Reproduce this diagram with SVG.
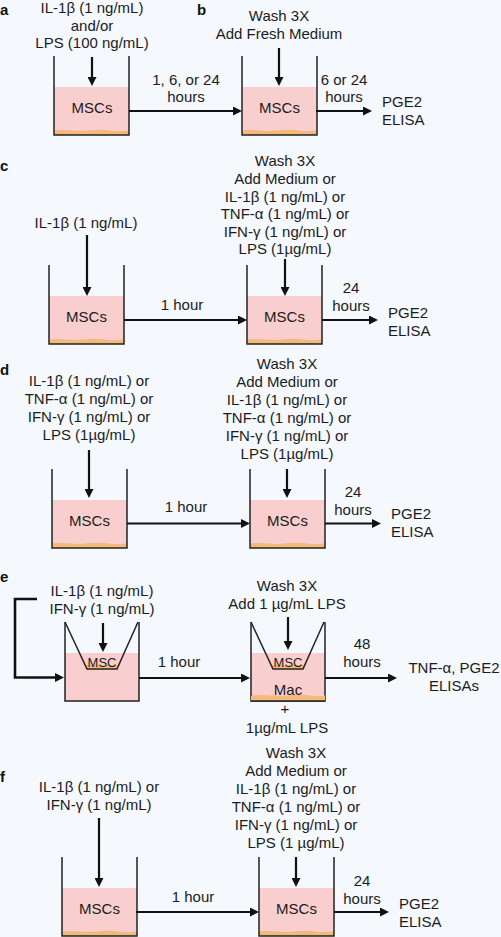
<svg xmlns="http://www.w3.org/2000/svg" xmlns:xlink="http://www.w3.org/1999/xlink" width="501" height="937" viewBox="0 0 501 937">
<style>
.t{font-family:"Liberation Sans",Arial,sans-serif;font-size:15px;fill:#1c1c1c;text-anchor:middle}
.s{font-size:13px}
.l{text-anchor:start}
.lab{font-family:"Liberation Sans",Arial,sans-serif;font-size:15px;font-weight:bold;fill:#111}
.c{stroke:#111;stroke-width:2.2;fill:none}
.w{stroke:#222;stroke-width:1.5;fill:none}
.pink{fill:#f8cece}
.or{fill:#f4b878}
</style>
<defs>
<marker id="ah" viewBox="0 0 9 9" refX="1" refY="4.5" markerWidth="9" markerHeight="9" markerUnits="userSpaceOnUse" orient="auto">
<path d="M0,0 L9,4.5 L0,9 z" fill="#111"/>
</marker>
<g id="well">
<rect class="pink" x="0" y="31" width="75" height="48"/>
<path class="or" d="M0,74.5 Q9,73.5 18,74.5 T37,74.3 T56,74.6 T75,74.3 V79 H0 Z"/>
<path class="w" d="M0,0 V79 H75 V0"/>
</g>
<g id="wellE">
<rect class="pink" x="0" y="31" width="74" height="48"/>
<path class="w" d="M0,0 V79 H74 V0"/>
<polygon class="or" points="20.1,43 53.9,43 52,47 22,47"/>
<path class="w" d="M0,0 L22,47 L52,47 L73,0"/>
</g>
</defs>
<rect width="501" height="937" fill="#f5f8fc"/>

<g id="labels">
<text class="lab" x="0" y="15">a</text>
<text class="lab" x="197" y="15">b</text>
<text class="lab" x="0" y="171">c</text>
<text class="lab" x="0" y="375">d</text>
<text class="lab" x="0" y="582">e</text>
<text class="lab" x="0" y="782">f</text>
</g>

<!-- Panel a -->
<g id="a-input">
<text class="t" x="92" y="13">IL-1β (1 ng/mL)</text>
<text class="t" x="92" y="30.5">and/or</text>
<text class="t" x="92" y="48">LPS (100 ng/mL)</text>
</g>
<g id="a-well"><use xlink:href="#well" x="54" y="56"/><text class="t" x="92" y="113">MSCs</text></g>
<g id="a-time"><text class="t" x="186" y="85">1, 6, or 24</text><text class="t" x="186" y="102">hours</text></g>

<!-- Panel b -->
<g id="b-input">
<text class="t" x="279" y="21">Wash 3X</text>
<text class="t" x="279" y="39">Add Fresh Medium</text>
</g>
<g id="b-well"><use xlink:href="#well" x="242" y="56"/><text class="t" x="279.5" y="113">MSCs</text></g>
<g id="b-time"><text class="t" x="344" y="85">6 or 24</text><text class="t" x="344" y="102">hours</text></g>
<g id="b-out"><text class="t l" x="382" y="107">PGE2</text><text class="t l" x="382" y="125">ELISA</text></g>

<!-- Panel c -->
<g id="c-input1"><text class="t" x="86" y="228">IL-1β (1 ng/mL)</text></g>
<g id="c-well1"><use xlink:href="#well" x="49" y="265"/><text class="t" x="86.5" y="322">MSCs</text></g>
<g id="c-time1"><text class="t" x="182" y="310">1 hour</text></g>
<g id="c-input2">
<text class="t" x="285" y="166">Wash 3X</text>
<text class="t" x="285" y="183.5">Add Medium or</text>
<text class="t" x="285" y="201.5">IL-1β (1 ng/mL) or</text>
<text class="t" x="285" y="219">TNF-α (1 ng/mL) or</text>
<text class="t" x="285" y="236.5">IFN-γ (1 ng/mL) or</text>
<text class="t" x="285" y="254">LPS (1µg/mL)</text>
</g>
<g id="c-well2"><use xlink:href="#well" x="247" y="265"/><text class="t" x="284.5" y="322">MSCs</text></g>
<g id="c-time2"><text class="t" x="351" y="293">24</text><text class="t" x="351" y="311">hours</text></g>
<g id="c-out"><text class="t l" x="388" y="318">PGE2</text><text class="t l" x="388" y="336">ELISA</text></g>

<!-- Panel d -->
<g id="d-input1">
<text class="t" x="89" y="386">IL-1β (1 ng/mL) or</text>
<text class="t" x="89" y="404">TNF-α (1 ng/mL) or</text>
<text class="t" x="89" y="422">IFN-γ (1 ng/mL) or</text>
<text class="t" x="89" y="440">LPS (1µg/mL)</text>
</g>
<g id="d-well1"><use xlink:href="#well" x="52" y="469"/><text class="t" x="89.5" y="526">MSCs</text></g>
<g id="d-time1"><text class="t" x="186" y="512">1 hour</text></g>
<g id="d-input2">
<text class="t" x="287" y="369">Wash 3X</text>
<text class="t" x="287" y="387">Add Medium or</text>
<text class="t" x="287" y="405">IL-1β (1 ng/mL) or</text>
<text class="t" x="287" y="423">TNF-α (1 ng/mL) or</text>
<text class="t" x="287" y="441">IFN-γ (1 ng/mL) or</text>
<text class="t" x="287" y="459">LPS (1µg/mL)</text>
</g>
<g id="d-well2"><use xlink:href="#well" x="250" y="469"/><text class="t" x="287.5" y="526">MSCs</text></g>
<g id="d-time2"><text class="t" x="353" y="497">24</text><text class="t" x="353" y="515">hours</text></g>
<g id="d-out"><text class="t l" x="391" y="519">PGE2</text><text class="t l" x="391" y="537">ELISA</text></g>

<!-- Panel e -->
<g id="e-input1">
<text class="t" x="102" y="596">IL-1β (1 ng/mL)</text>
<text class="t" x="102" y="614">IFN-γ (1 ng/mL)</text>
</g>
<g id="e-well1"><use xlink:href="#wellE" x="65" y="622"/><text class="t s" x="102" y="667">MSC</text></g>
<g id="e-time1"><text class="t" x="179" y="667">1 hour</text></g>
<g id="e-input2">
<text class="t" x="287" y="591">Wash 3X</text>
<text class="t" x="287" y="609">Add 1 µg/mL LPS</text>
</g>
<g id="e-well2"><use xlink:href="#wellE" x="251" y="622"/>
<path class="or" d="M251,696 Q260,694.5 270,695.5 T290,695.3 T310,695.6 T325,695.2 V701 H251 Z"/>
<path class="w" d="M251,701 H325"/>
<text class="t s" x="288" y="667">MSC</text><text class="t" x="288" y="695">Mac</text></g>
<g id="e-cond"><text class="t" x="285" y="714">+</text><text class="t" x="287" y="733">1µg/mL LPS</text></g>
<g id="e-time2"><text class="t" x="362" y="649">48</text><text class="t" x="362" y="667">hours</text></g>
<g id="e-out"><text class="t" x="454" y="673">TNF-α, PGE2</text><text class="t" x="454" y="691">ELISAs</text></g>

<!-- Panel f -->
<g id="f-input1">
<text class="t" x="99" y="792">IL-1β (1 ng/mL) or</text>
<text class="t" x="99" y="810">IFN-γ (1 ng/mL)</text>
</g>
<g id="f-well1"><use xlink:href="#well" x="62" y="857"/><text class="t" x="99.5" y="914">MSCs</text></g>
<g id="f-time1"><text class="t" x="193" y="902">1 hour</text></g>
<g id="f-input2">
<text class="t" x="296" y="758">Wash 3X</text>
<text class="t" x="296" y="776">Add Medium or</text>
<text class="t" x="296" y="794">IL-1β (1 ng/mL) or</text>
<text class="t" x="296" y="812">TNF-α (1 ng/mL) or</text>
<text class="t" x="296" y="830">IFN-γ (1 ng/mL) or</text>
<text class="t" x="296" y="848">LPS (1 µg/mL)</text>
</g>
<g id="f-well2"><use xlink:href="#well" x="259" y="857"/><text class="t" x="296.5" y="914">MSCs</text></g>
<g id="f-time2"><text class="t" x="362" y="886">24</text><text class="t" x="362" y="904">hours</text></g>
<g id="f-out"><text class="t l" x="399" y="909">PGE2</text><text class="t l" x="399" y="927">ELISA</text></g>

<g id="connectors">
<path class="c" marker-end="url(#ah)" d="M92,57 V78"/>
<path class="c" marker-end="url(#ah)" d="M129,111 H234"/>
<path class="c" marker-end="url(#ah)" d="M279,48 V78"/>
<path class="c" marker-end="url(#ah)" d="M316,111 H364"/>
<path class="c" marker-end="url(#ah)" d="M87,235 V288"/>
<path class="c" marker-end="url(#ah)" d="M124,320 H239"/>
<path class="c" marker-end="url(#ah)" d="M285,259 V288"/>
<path class="c" marker-end="url(#ah)" d="M322,320 H370"/>
<path class="c" marker-end="url(#ah)" d="M89,450 V490"/>
<path class="c" marker-end="url(#ah)" d="M127,523.5 H242"/>
<path class="c" marker-end="url(#ah)" d="M287,469 V490"/>
<path class="c" marker-end="url(#ah)" d="M325,523.5 H373"/>
<path class="c" marker-end="url(#ah)" style="stroke-width:2.6" d="M37,599 H15 V677.5 H56"/>
<path class="c" marker-end="url(#ah)" d="M103,623 V644"/>
<path class="c" marker-end="url(#ah)" d="M139,678 H242"/>
<path class="c" marker-end="url(#ah)" d="M288,617 V642"/>
<path class="c" marker-end="url(#ah)" d="M325,678 H389"/>
<path class="c" marker-end="url(#ah)" d="M99,818 V879"/>
<path class="c" marker-end="url(#ah)" d="M136,912 H251"/>
<path class="c" marker-end="url(#ah)" d="M296,857 V879"/>
<path class="c" marker-end="url(#ah)" d="M334,912 H381"/>
</g>
</svg>
